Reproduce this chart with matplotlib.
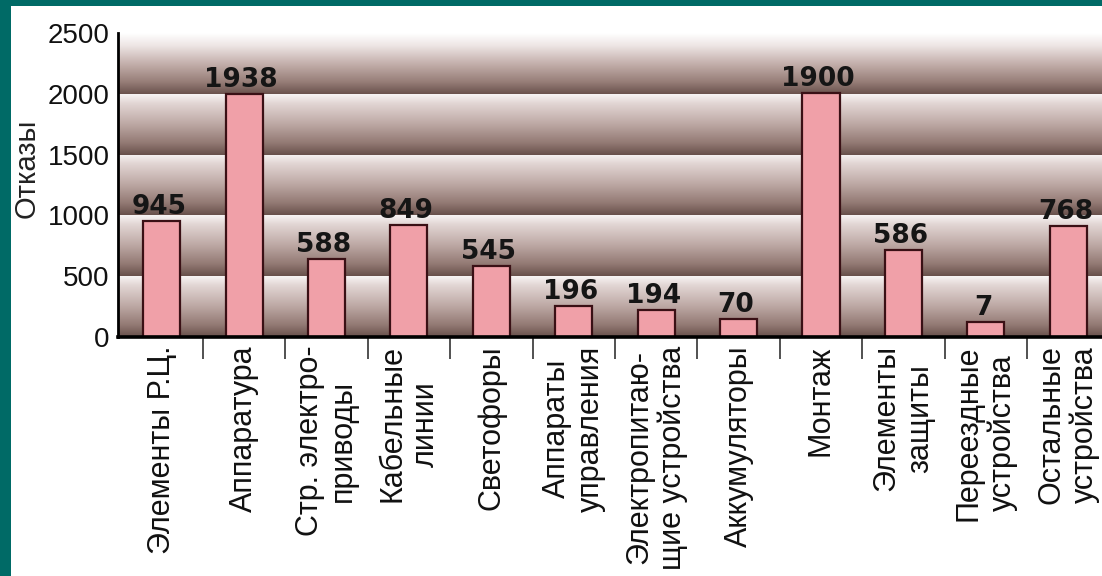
import numpy as np
import matplotlib
matplotlib.use("Agg")
import matplotlib.pyplot as plt
from matplotlib.colors import LinearSegmentedColormap
from matplotlib.patches import Rectangle

# ---- data ----
categories = [
    "Элементы Р.Ц.",
    "Аппаратура",
    "Стр. электро-\nприводы",
    "Кабельные\nлинии",
    "Светофоры",
    "Аппараты\nуправления",
    "Электропитаю-\nщие устройства",
    "Аккумуляторы",
    "Монтаж",
    "Элементы\nзащиты",
    "Переездные\nустройства",
    "Остальные\nустройства",
]
# bar heights as drawn in the picture
bar_heights = [954, 1998, 641, 925, 584, 255, 222, 148, 2006, 715, 123, 913]
# numbers printed above the bars
value_labels = ["945", "1938", "588", "849", "545", "196", "194", "70", "1900", "586", "7", "768"]
y_ticks = [0, 500, 1000, 1500, 2000, 2500]
y_label = "Отказы"

# ---- style ----
W, H = 1102, 576
teal = "#006a66"
bar_color = "#f0a0a8"
bar_edge = "#3a1015"

fig = plt.figure(figsize=(W / 100, H / 100), dpi=100, facecolor=teal)
fig.patches.append(Rectangle((11 / W, 0), 1, (H - 6) / H, transform=fig.transFigure,
                             facecolor="white", edgecolor="none", zorder=-10))

x0 = -0.53
x1 = len(categories) - 0.5
left_px, right_px = 118, 1109.4
ax = fig.add_axes([left_px / W, (H - 337) / H, (right_px - left_px) / W, (337 - 33) / H])
ax.set_facecolor("none")

# cylinder-like bands between grid lines
band_cmap = LinearSegmentedColormap.from_list(
    "band", [(0.0, "#f8f4f4"), (0.15, "#e2d6d4"), (0.5, "#bca7a3"),
             (0.8, "#937a74"), (1.0, "#68504b")])
top_cmap = LinearSegmentedColormap.from_list(
    "bandtop", [(0.0, "#ffffff"), (0.2, "#eee6e5"), (0.5, "#c4b0ac"),
                (0.8, "#977e78"), (1.0, "#6a524d")])
grad = np.linspace(0, 1, 256).reshape(-1, 1)
for i in range(len(y_ticks) - 1):
    lo, hi = y_ticks[i], y_ticks[i + 1]
    cm = top_cmap if i == len(y_ticks) - 2 else band_cmap
    ax.imshow(grad, extent=(x0, x1, lo, hi), origin="upper", aspect="auto",
              cmap=cm, zorder=0, interpolation="bilinear")

x = np.arange(len(categories))
ax.bar(x, bar_heights, width=0.45, color=bar_color, edgecolor=bar_edge,
       linewidth=1.6, zorder=3)

for xi, h, lab in zip(x, bar_heights, value_labels):
    ax.annotate(lab, (xi, h), xytext=(-2, 5), textcoords="offset points",
                ha="center", va="baseline", fontsize=19, fontweight="bold",
                family="DejaVu Sans", color="#151515", zorder=4)

ax.set_xlim(x0, x1)
ax.set_ylim(0, 2500)

ax.set_yticks(y_ticks)
ax.set_yticklabels([str(v) for v in y_ticks], fontsize=20, family="Liberation Sans",
                   color="#111111")
ax.tick_params(axis="y", length=0, pad=6)

ax.set_xticks(x)
ax.set_xticklabels(categories, rotation=90, fontsize=22, family="Liberation Sans",
                   color="#111111", multialignment="center", linespacing=1.15)
ax.set_xticks(np.arange(0.5, len(categories) - 0.5, 1.0), minor=True)
ax.tick_params(axis="x", which="major", length=0, pad=6)
ax.tick_params(axis="x", which="minor", length=16, width=1.2, color="#333333")

for s in ("top", "right"):
    ax.spines[s].set_visible(False)
ax.spines["left"].set_linewidth(2.0)
ax.spines["bottom"].set_linewidth(2.6)
ax.spines["left"].set_zorder(5)
ax.spines["bottom"].set_zorder(5)

fig.text(27 / W, 1 - 168 / H, y_label, rotation=90, ha="center", va="center",
         fontsize=21, family="Liberation Sans", color="#222222")

fig.savefig("out.png", dpi=100, facecolor=teal)
